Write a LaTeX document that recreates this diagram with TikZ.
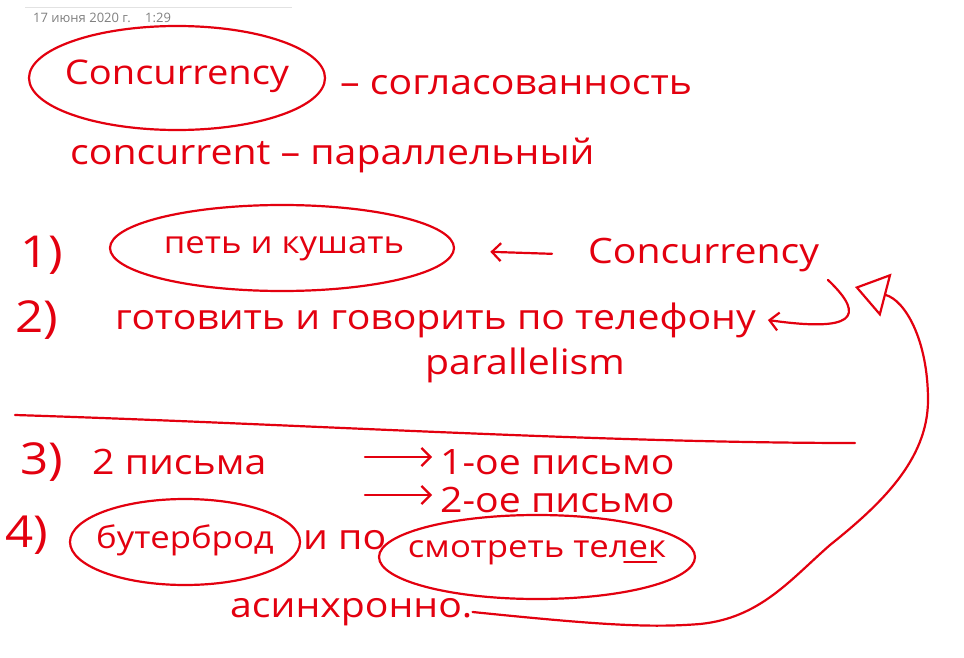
\documentclass[tikz,border=0pt]{standalone}
\usepackage{fontspec}
\usepackage{tikz}
\usetikzlibrary{arrows.meta}
\newfontfamily\handfont[FakeStretch=1.12]{Open Sans}
\newfontfamily\metafont{Open Sans}
\definecolor{inkred}{HTML}{E3000F}
\definecolor{metagray}{HTML}{808080}
\definecolor{rulegray}{HTML}{E2E2E2}
\tikzset{hand/.style={text=inkred,font=\handfont\fontsize{35}{40}\selectfont,
 inner sep=0pt,anchor=west},
 word/.style={hand,anchor=center,font=\handfont\fontsize{31}{36}\selectfont},
 numeral/.style={hand,font=\handfont\fontsize{44}{48}\selectfont},
 pen/.style={draw=inkred,line width=2.2pt,line cap=round,line join=round},
 barb/.style={pen,-{Straight Barb[length=9pt,width=18pt]}},
 bigtip/.style={pen,-{Triangle[open,length=32pt,width=44pt]}},
 meta/.style={text=metagray,font=\metafont\fontsize{13}{14}\selectfont,
 inner sep=0pt,anchor=west}}

\begin{document}
\begin{tikzpicture}[x=1pt,y=-1pt]
 \useasboundingbox[fill=white] (0,0) rectangle (964,658);
 % page header
 \draw[rulegray,line width=.8pt] (25,7) -- (292,7);
 \node[meta] (date) at (33,18) {17 июня 2020 г.};
 \node[meta] (time) at (145,18) {1:29};
 % terms
 \node[word,font=\handfont\fontsize{34}{38}\selectfont] (term) at (177,76) {Concurrency};
 \draw[pen] (177,78) ellipse [x radius=148, y radius=52];
 \node[hand] (termru) at (340,85) {– согласованность};
 \node[hand] (adj) at (70,155) {concurrent – параллельный};
 % examples 1 and 2
 \node[numeral] (n1) at (20,255) {1)};
 \node[word] (eat) at (284,249) {петь и кушать};
 \draw[pen] (282,248) ellipse [x radius=172, y radius=43];
 \node[hand] (conc) at (588,255) {Concurrency};
 \node[numeral] (n2) at (15,320) {2)};
 \node[hand] (phone) at (115,320) {готовить и говорить по телефону};
 \node[hand] (par) at (425,365) {parallelism};
 \coordinate (concend) at (828,280);
 \coordinate (conctip) at (855,287);
 \draw[barb,shorten <=36pt,shorten >=86pt] (conc.west) -- (eat.east);
 \draw[barb] (concend) .. controls (868,318) and (852,332) .. ([xshift=12pt]phone.east);
 % divider
 \draw[pen] (15,415) .. controls (300,424) and (600,443) .. (855,443);
 % examples 3 and 4
 \node[numeral] (n3) at (20,462) {3)};
 \node[hand] (letters) at (92,462) {2 письма};
 \node[hand] (first) at (440,462) {1-ое письмо};
 \node[hand] (second) at (440,500) {2-ое письмо};
 \coordinate (fork1) at (365,457);
 \coordinate (fork2) at (365,495);
 \draw[barb,shorten >=8pt] (fork1) -- (fork1 -| first.west);
 \draw[barb,shorten >=8pt] (fork2) -- (fork2 -| second.west);
 \node[numeral] (n4) at (5,535) {4)};
 \node[word] (sandwich) at (185,540) {бутерброд};
 \draw[pen] (185,542) ellipse [x radius=115, y radius=43];
 \node[hand] (andpo) at (303,540) {и по};
 \node[word] (tv) at (537,553) {смотреть телек};
 \draw[pen] (537,557) ellipse [x radius=158, y radius=42];
 \draw[pen] ([xshift=-42pt,yshift=3pt]tv.south east) -- ([xshift=-10pt,yshift=3pt]tv.south east);
 \node[hand] (async) at (230,612) {асинхронно.};
 \draw[bigtip] (async.east) .. controls (600,625) and (650,628) .. (700,624)
  .. controls (760,618) and (790,580) .. (830,545)
  .. controls (880,505) and (928,460) .. (928,400)
  .. controls (928,340) and (905,300) .. (conctip);
\end{tikzpicture}
\end{document}
